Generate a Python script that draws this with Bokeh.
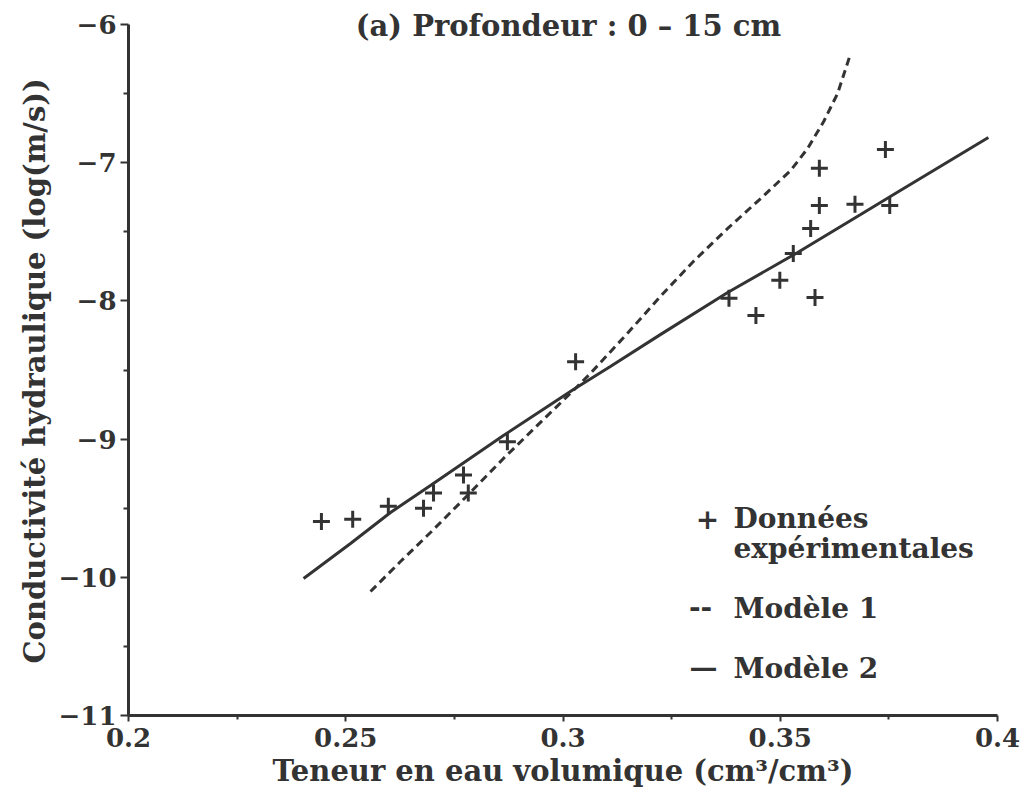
from bokeh.plotting import figure
from bokeh.models import FixedTicker, Label, Range1d, Title
from bokeh.embed import file_html
from bokeh.resources import INLINE

# Experimental data
theta_obs = [0.2444, 0.2516, 0.2598, 0.2679, 0.2702, 0.2771, 0.2782, 0.2872, 0.3029,
             0.3382, 0.3444, 0.3499, 0.3530, 0.3570, 0.3580, 0.3590, 0.3590, 0.3672,
             0.3752, 0.3742]
logk_obs = [-9.596, -9.58, -9.485, -9.50, -9.39, -9.26, -9.39, -9.02, -8.44,
            -7.98, -8.106, -7.85, -7.657, -7.476, -7.975, -7.31, -7.04, -7.30,
            -7.31, -6.905]

# Model 1 (dashed)
theta_m1 = [0.2557, 0.2626, 0.2695, 0.2780, 0.2863, 0.2955, 0.3024, 0.3063, 0.3148,
            0.3224, 0.3300, 0.3379, 0.3455, 0.3524, 0.3563, 0.3600, 0.3632, 0.3662]
logk_m1 = [-10.103, -9.886, -9.676, -9.408, -9.140, -8.858, -8.648, -8.525, -8.236,
           -7.968, -7.715, -7.476, -7.259, -7.056, -6.897, -6.702, -6.499, -6.210]

# Model 2 (solid)
theta_m2 = [0.2403, 0.2511, 0.2603, 0.2695, 0.2863, 0.3024, 0.3109, 0.3224, 0.3379,
            0.3540, 0.3685, 0.3761, 0.3979]
logk_m2 = [-10.009, -9.755, -9.531, -9.336, -8.974, -8.641, -8.475, -8.244, -7.939,
           -7.650, -7.375, -7.230, -6.818]

x_ticks = [0.2, 0.25, 0.3, 0.35, 0.4]
x_tick_labels = ["0.2", "0.25", "0.3", "0.35", "0.4"]
x_minor = [0.225, 0.275, 0.325, 0.375]
y_ticks = [-11, -10, -9, -8, -7, -6]
y_tick_labels = ["\u221211", "\u221210", "\u22129", "\u22128", "\u22127", "\u22126"]
y_minor = [-10.5, -9.5, -8.5, -7.5, -6.5]

title_text = "(a) Profondeur : 0 \u2013 15 cm"
x_label = "Teneur en eau volumique (cm\u00b3/cm\u00b3)"
y_label = "Conductivit\u00e9 hydraulique (log(m/s))"
legend_labels = ["Donn\u00e9es", "exp\u00e9rimentales", "Mod\u00e8le 1", "Mod\u00e8le 2"]
legend_symbols = ["+", "--", "\u2014"]

INK = "#333333"
FONT = "DejaVu Serif"

FRAME_H = 715
PX_PER_UNIT = 138.2
y_top = -11 + FRAME_H / PX_PER_UNIT   # frame extends a little above -6 to hold the title

p = figure(frame_width=869, frame_height=FRAME_H,
           x_range=Range1d(0.2, 0.4), y_range=Range1d(-11, y_top),
           output_backend="svg", toolbar_location=None,
           min_border_left=128, min_border_top=0, min_border_right=31,
           min_border_bottom=78)
p.outline_line_color = None
p.xgrid.visible = False
p.ygrid.visible = False
p.background_fill_color = "white"

p.xaxis.ticker = FixedTicker(ticks=x_ticks, minor_ticks=x_minor)
p.yaxis.ticker = FixedTicker(ticks=y_ticks, minor_ticks=y_minor)
p.xaxis.major_label_overrides = {t: l for t, l in zip(x_ticks, x_tick_labels)}
p.yaxis.major_label_overrides = {t: l for t, l in zip(y_ticks, y_tick_labels)}
p.yaxis.bounds = (y_ticks[0], y_ticks[-1])

for ax in (p.xaxis[0], p.yaxis[0]):
    ax.axis_line_width = 3
    ax.axis_line_color = INK
    ax.major_tick_line_color = INK
    ax.minor_tick_line_color = INK
    ax.major_tick_line_width = 2
    ax.minor_tick_line_width = 2
    ax.major_tick_in = 0
    ax.minor_tick_in = 0
    ax.major_label_text_font = FONT
    ax.major_label_text_font_style = "bold"
    ax.major_label_text_font_size = "26px"
    ax.major_label_text_color = INK
    ax.axis_label_text_font = FONT
    ax.axis_label_text_font_style = "bold"
    ax.axis_label_text_font_size = "29px"
    ax.axis_label_text_color = INK

p.xaxis.major_tick_out = 6
p.xaxis.minor_tick_out = 4
p.yaxis.major_tick_out = 8
p.yaxis.minor_tick_out = 5
p.xaxis.major_label_standoff = 6
p.yaxis.major_label_standoff = 4
p.xaxis.axis_label = x_label
p.xaxis.axis_label_standoff = 4

# y-axis title as a left-side Title so that it can be centred on the -11..-6 span
p.add_layout(Title(text=y_label, align="left", offset=52, standoff=8,
                   text_font=FONT, text_font_style="bold", text_font_size="29px",
                   text_color=INK), "left")

p.line(theta_m2, logk_m2, line_color=INK, line_width=3)
p.line(theta_m1, logk_m1, line_color=INK, line_width=3, line_dash="8 5")
p.scatter(theta_obs, logk_obs, marker="cross", size=17, line_width=3, line_color=INK)

def lab(text, sx, sy, align="left", size="28px"):
    p.add_layout(Label(x=sx, y=sy, x_units="screen", y_units="screen", text=text,
                       text_font=FONT, text_font_style="bold", text_font_size=size,
                       text_color=INK, text_align=align, text_baseline="middle"))

# frame origin: page (128, 715)
lab(title_text, 568 - 128, 715 - 25, align="center", size="29px")
lab(legend_symbols[0], 707 - 128, 715 - 518, align="center")
lab(legend_labels[0], 733 - 128, 715 - 518)
lab(legend_labels[1], 733 - 128, 715 - 548)
lab(legend_symbols[1], 700 - 128, 715 - 606, align="center")
lab(legend_labels[2], 733 - 128, 715 - 608)
lab(legend_symbols[2], 703 - 128, 715 - 667, align="center")
lab(legend_labels[3], 733 - 128, 715 - 668)

open("out.html", "w").write(file_html(p, INLINE))
